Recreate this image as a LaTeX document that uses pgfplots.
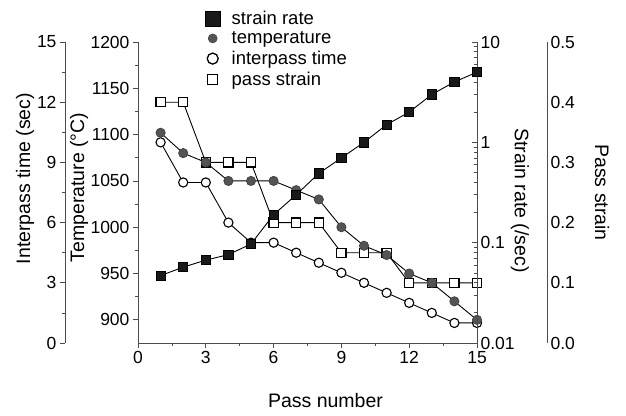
\documentclass[border=0pt]{standalone}
\usepackage{fontspec}
\setmainfont{Liberation Sans}
\usepackage{pgfplots}
\pgfplotsset{compat=1.18}

\definecolor{axgray}{gray}{0.30}
\definecolor{tempfill}{gray}{0.33}
\definecolor{ratefill}{gray}{0.10}

\pgfplotsset{
  base/.style={
    scale only axis, height=301pt,
    anchor=south west, clip=false,
    /pgf/number format/assume math mode=true,
    /pgf/number format/1000 sep={},
    tick label style={font=\fontsize{17.5}{17.5}\selectfont},
    label style={font=\fontsize{19.5}{19.5}\selectfont},
    axis line style={axgray, line width=0.8pt, -},
    tick style={axgray, line width=0.7pt},
    major tick length=5pt, minor tick length=3pt,
    tick align=outside,
  },
  ratestyle/.style={black, line width=0.9pt, mark=square*, mark size=4.6pt,
    mark options={fill=ratefill, draw=black, line width=0.8pt}},
  tempstyle/.style={black, line width=0.9pt, mark=*, mark size=4.6pt,
    mark options={fill=tempfill, draw=tempfill!80!black, line width=0.8pt}},
  interstyle/.style={black, line width=0.9pt, mark=*, mark size=4.6pt,
    mark options={fill=white, draw=black, line width=1.1pt}},
  strainstyle/.style={black, line width=0.9pt, mark=square*, mark size=4.6pt,
    mark options={fill=white, draw=black, line width=1.1pt}},
}

\begin{document}
\begin{tikzpicture}
\path[use as bounding box] (-138pt,-72pt) rectangle (488pt,343pt);

% interpass time, left outer axis
\begin{axis}[base, at={(-73pt,0pt)}, width=412pt,
  xmin=-3.230, xmax=15, ymin=0, ymax=15,
  axis x line=none, axis y line*=left,
  ytick={0,3,...,15}, minor y tick num=1,
  ylabel={Interpass time (sec)},
  ylabel style={at={([xshift=-40pt,yshift=14pt]axis description cs:0,0.5)}, anchor=center},
]
\addplot[interstyle] table {
1 10
2 8
3 8
4 6
5 5
6 5
7 4.5
8 4
9 3.5
10 3
11 2.5
12 2
13 1.5
14 1
15 1
};
\end{axis}

% pass strain, right outer axis
\begin{axis}[base, at={(0pt,0pt)}, width=409pt,
  xmin=0, xmax=18.097, ymin=0, ymax=0.5,
  axis x line=none, axis y line*=right,
  ytick={0,0.1,0.2,0.3,0.4,0.5},
  yticklabels={0.0,0.1,0.2,0.3,0.4,0.5},
  major tick length=0pt,
  ylabel={Pass strain},
  ylabel style={at={([xshift=55pt]axis description cs:1,0.5)}, anchor=center, rotate=180},
]
\addplot[strainstyle] table {
1 0.4
2 0.4
3 0.3
4 0.3
5 0.3
6 0.2
7 0.2
8 0.2
9 0.15
10 0.15
11 0.15
12 0.1
13 0.1
14 0.1
15 0.1
};
\end{axis}

% temperature, main axis with pass number
\begin{axis}[base, at={(0pt,0pt)}, width=339pt,
  xmin=0, xmax=15, ymin=875, ymax=1200,
  axis x line*=bottom, axis y line*=left,
  xtick={0,3,...,15}, minor x tick num=1,
  ytick={900,950,...,1200}, minor y tick num=1,
  xlabel={Pass number},
  xlabel style={at={([xshift=18pt,yshift=-58pt]axis description cs:0.5,0)}, anchor=center},
  ylabel={Temperature (°C)},
  ylabel style={at={([xshift=-59pt,yshift=5pt]axis description cs:0,0.5)}, anchor=center},
]
\addplot[tempstyle] table {
1 1102
2 1080
3 1070
4 1050
5 1050
6 1050
7 1040
8 1030
9 1000
10 980
11 970
12 950
13 940
14 920
15 900
};
\end{axis}

% strain rate, inner right log axis, holds the legend
\begin{axis}[base, at={(0pt,0pt)}, width=339pt,
  xmin=0, xmax=15, ymode=log, ymin=0.01, ymax=10,
  axis x line=none, axis y line*=right,
  ytick={0.01,0.1,1,10}, yticklabels={0.01,0.1,1,10},
  tick align=inside,
  ylabel={Strain rate (/sec)},
  ylabel style={at={([xshift=43pt,yshift=-8pt]axis description cs:1,0.5)}, anchor=center, rotate=180},
  legend style={at={([xshift=4pt]axis description cs:0.177,1.116)}, anchor=north west,
    draw=none, fill=none, font=\fontsize{18.5}{20}\selectfont,
    nodes={inner sep=1.5pt}, row sep=3pt,
    /tikz/every odd column/.append style={column sep=10pt}},
  legend cell align=left,
]
\addlegendimage{only marks, mark=square*, mark size=7.5pt, mark options={fill=ratefill, draw=black}}
\addlegendentry{strain rate}
\addlegendimage{only marks, mark=*, mark size=4.6pt, mark options={fill=tempfill, draw=tempfill!80!black}}
\addlegendentry{temperature}
\addlegendimage{only marks, mark=*, mark size=5.5pt, mark options={fill=white, draw=black, line width=1.3pt}}
\addlegendentry{interpass time}
\addlegendimage{only marks, mark=square*, mark size=5pt, mark options={fill=white, draw=black, line width=1.3pt}}
\addlegendentry{pass strain}
\addplot[ratestyle, forget plot] table {
1 0.047
2 0.057
3 0.067
4 0.076
5 0.097
6 0.19
7 0.3
8 0.49
9 0.7
10 1.0
11 1.5
12 2.0
13 3.0
14 4.0
15 5.0
};
\end{axis}
\end{tikzpicture}
\end{document}
